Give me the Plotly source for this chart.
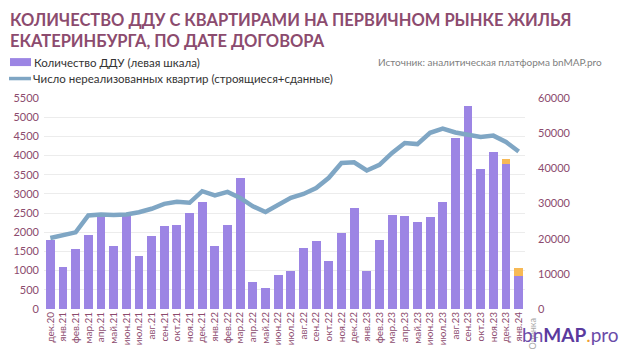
import plotly.graph_objects as go

months = ["дек.20","янв.21","фев.21","мар.21","апр.21","май.21","июн.21","июл.21","авг.21","сен.21",
          "окт.21","ноя.21","дек.21","янв.22","фев.22","мар.22","апр.22","май.22","июн.22","июл.22",
          "авг.22","сен.22","окт.22","ноя.22","дек.22","янв.23","фев.23","мар.23","апр.23","май.23",
          "июн.23","июл.23","авг.23","сен.23","окт.23","ноя.23","дек.23","янв.24"]

ddu = [1810,1100,1570,1920,2420,1640,2440,1380,1900,2170,
       2180,2500,2780,1640,2190,3420,700,560,880,990,
       1580,1780,1250,1970,2630,990,1800,2460,2420,2280,
       2390,2790,4450,5290,3650,4090,3790,860]

ddu_estimate = [None]*36 + [130, 200]

unsold = [20200,21000,21800,26600,26900,26700,26900,27500,28500,29900,
          30500,30200,33500,32300,33300,31600,29200,27600,29500,31600,
          32700,34400,37300,41500,41700,39400,41000,44400,47200,46900,
          50100,51300,50200,49600,48900,49300,47500,44800]

left_ticks = list(range(0, 5501, 500))
right_ticks = list(range(0, 60001, 10000))

MAUVE = "#8c4b6e"
PURPLE = "#9c85e4"
ORANGE = "#f7b955"
LINE = "#7fa6c4"
FONT = "Lato"

fig = go.Figure()
fig.add_trace(go.Bar(x=months, y=ddu, marker=dict(color=PURPLE, line=dict(width=0)),
                     name="Количество ДДУ (левая шкала)"))
fig.add_trace(go.Bar(x=months, y=ddu_estimate, marker=dict(color=ORANGE, line=dict(width=0)),
                     name="Оценка"))
fig.add_trace(go.Scatter(x=months, y=unsold, yaxis="y2", mode="lines",
                         line=dict(color=LINE, width=4.5),
                         name="Число нереализованных квартир (строящиеся+сданные)"))

# page offset of the figure inside the browser page (default body margin)
OFF = 8
W, H = 630 - OFF, 355 - OFF
# plot area in page coordinates
PL, PR, PT, PB = 44, 525, 98, 309.5
L, R, T, B = PL - OFF, W - (PR - OFF), PT - OFF, H - (PB - OFF)
pw, ph = W - L - R, H - T - B

def px(x):
    return (x - PL) / pw

def py(y):
    return (PB - y) / ph

fig.update_layout(
    width=W, height=H,
    margin=dict(l=L, r=R, t=T, b=B, autoexpand=False),
    plot_bgcolor="white", paper_bgcolor="white",
    barmode="stack", bargap=0.3,
    showlegend=False,
    font=dict(family=FONT, color=MAUVE),
    xaxis=dict(type="category", tickangle=-90, tickfont=dict(size=10, color=MAUVE),
               showgrid=False, showline=False, ticks="", zeroline=False, automargin=False),
    yaxis=dict(range=[0, 5500], tickvals=left_ticks, showgrid=True, gridcolor="#ececec",
               gridwidth=1, zeroline=False, tickfont=dict(size=11, color=MAUVE),
               ticklabelstandoff=4, automargin=False),
    yaxis2=dict(range=[0, 60000], tickvals=right_ticks, tickformat="d", overlaying="y", side="right",
                showgrid=False, zeroline=False, tickfont=dict(size=11, color=MAUVE),
                ticklabelstandoff=12, automargin=False),
)

# title
fig.add_annotation(text="КОЛИЧЕСТВО ДДУ С КВАРТИРАМИ НА ПЕРВИЧНОМ РЫНКЕ ЖИЛЬЯ<br>ЕКАТЕРИНБУРГА, ПО ДАТЕ ДОГОВОРА",
                   xref="paper", yref="paper", x=px(OFF + 1), y=py(OFF + 0.5), xanchor="left", yanchor="top",
                   align="left", showarrow=False, borderpad=0,
                   font=dict(family=FONT, size=16.5, color=MAUVE, weight=700))

# legend drawn manually
fig.add_shape(type="rect", xref="paper", yref="paper",
              x0=px(10), x1=px(31), y0=py(66), y1=py(58),
              fillcolor=PURPLE, line=dict(width=0))
fig.add_shape(type="line", xref="paper", yref="paper",
              x0=px(9), x1=px(31), y0=py(78.5), y1=py(78.5),
              line=dict(color=LINE, width=3.5))
fig.add_annotation(text="Количество ДДУ (левая шкала)", xref="paper", yref="paper",
                   x=px(32), y=py(62), xanchor="left", yanchor="middle", showarrow=False,
                   font=dict(family=FONT, size=11.5, color="#333333"))
fig.add_annotation(text="Число нереализованных квартир (строящиеся+сданные)", xref="paper", yref="paper",
                   x=px(31), y=py(78.5), xanchor="left", yanchor="middle", showarrow=False,
                   font=dict(family=FONT, size=11.5, color="#333333"))
fig.add_annotation(text="Источник: аналитическая платформа bnMAP.pro", xref="paper", yref="paper",
                   x=px(604), y=py(62), xanchor="right", yanchor="middle", showarrow=False,
                   font=dict(family=FONT, size=10, color="#808080"))
fig.add_annotation(text="Оценка", xref="paper", yref="paper", textangle=-90,
                   x=px(532), y=py(335), xanchor="center", yanchor="middle", showarrow=False,
                   font=dict(family=FONT, size=9, color="#aaaaaa"))
fig.add_annotation(text="<span style='color:#6a4ba8'>bn</span><b><span style='color:#5a3a9e'>MAP</span></b><span style='color:#f0a030'>.</span><span style='color:#6a4ba8'>pro</span>",
                   xref="paper", yref="paper",
                   x=px(621), y=py(335), xanchor="right", yanchor="middle", showarrow=False,
                   font=dict(family=FONT, size=19))

fig.write_html("out.html")
